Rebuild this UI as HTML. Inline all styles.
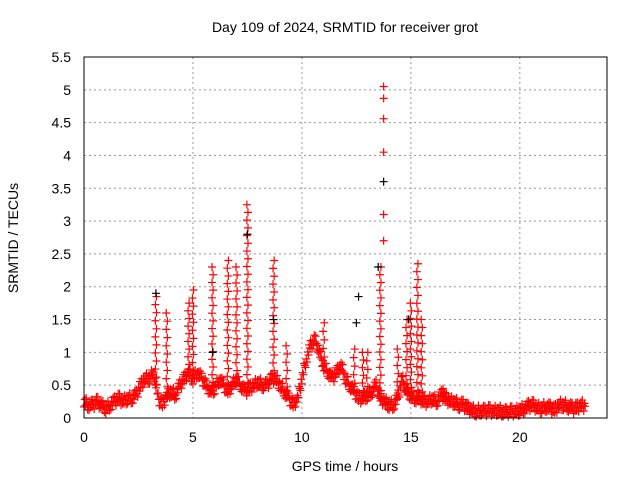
<!DOCTYPE html>
<html><head><meta charset="utf-8"><style>
body{margin:0;background:#fff}
svg{display:block;font-family:"Liberation Sans",sans-serif;font-size:14px}
</style></head><body>
<svg id="chart" width="640" height="480">
<text x="345" y="32" text-anchor="middle">Day 109 of 2024, SRMTID for receiver grot</text>
<text x="345" y="471" text-anchor="middle">GPS time / hours</text>
<text transform="translate(18,238) rotate(-90)" text-anchor="middle">SRMTID / TECUs</text>
<g id="grid"></g><g id="marks"></g>
<rect x="84" y="57" width="523" height="361" fill="none" stroke="#000"/>
</svg>
<script>
const baseTimes0 = 0, baseStep = 0.2;
const baseValues = [0.25,0.2,0.2,0.25,0.2, 0.15,0.2,0.25,0.3,0.25, 0.3,0.3,0.35,0.5,0.6, 0.6,0.7,0.3,0.2,0.35,
 0.4,0.35,0.5,0.6,0.7, 0.6,0.7,0.6,0.5,0.4, 0.45,0.6,0.5,0.4,0.5, 0.6,0.5,0.4,0.45,0.5,
 0.55,0.5,0.5,0.6,0.6, 0.5,0.4,0.3,0.2,0.3, 0.6,0.9,1.1,1.2,1.0, 0.8,0.7,0.6,0.7,0.8,
 0.6,0.5,0.4,0.3,0.3, 0.35,0.4,0.5,0.3,0.25, 0.2,0.2,0.3,0.6,0.4, 0.35,0.3,0.3,0.25,0.25,
 0.3,0.25,0.35,0.3,0.25, 0.25,0.2,0.2,0.15,0.12, 0.1,0.12,0.1,0.12,0.1, 0.12,0.1,0.08,0.1,0.1,
 0.12,0.15,0.18,0.2,0.15, 0.15,0.18,0.15,0.12,0.2, 0.2,0.18,0.15,0.15,0.2,0.18];
const spikeTimes = [3.3,3.8,4.8,5.0,5.9,6.6,7.0,7.5,8.7,9.3,11.0,12.4,12.8,13.0,13.6,14.4,14.8,15.0,15.3,15.5,16.5];
const spikePeaks = [1.85,1.6,1.75,1.95,2.3,2.4,2.3,3.25,2.4,1.1,1.45,1.05,1.0,1.0,2.3,1.05,1.5,1.75,2.35,1.5,0.45];
const isolatedTimes = [13.75,13.75,13.75,13.75,13.75,13.75];
const isolatedValues = [5.05,4.87,4.56,4.05,3.1,2.7];
const blackTimes = [3.3,5.9,7.5,8.7,12.5,12.6,13.5,13.75,14.9];
const blackValues = [1.9,1.0,2.8,1.5,1.45,1.85,2.3,3.6,1.5];
const xTicks = [0,5,10,15,20];
const yTicks = [0,0.5,1,1.5,2,2.5,3,3.5,4,4.5,5,5.5];
const yTickLabels = ["0","0.5","1","1.5","2","2.5","3","3.5","4","4.5","5","5.5"];

const NS="http://www.w3.org/2000/svg";
const X=t=>84+t*523/24, Y=v=>418-v*361/5.5;
const grid=document.getElementById('grid'), marks=document.getElementById('marks');
function mk(tag,attrs,parent){const e=document.createElementNS(NS,tag);for(const k in attrs)e.setAttribute(k,attrs[k]);parent.appendChild(e);return e;}
xTicks.forEach(t=>{
  const l=mk('line',{x1:X(t),x2:X(t),y1:57,y2:418,stroke:'#999','stroke-dasharray':'2,3'},grid);
  
  
  const tx=mk('text',{x:X(t),y:442,'text-anchor':'middle'},grid);tx.textContent=t;
  
  
});
yTicks.forEach((v,i)=>{
  const l=mk('line',{x1:84,x2:607,y1:Y(v),y2:Y(v),stroke:'#999','stroke-dasharray':'2,3'},grid);
  
  
  const tx=mk('text',{x:71,y:Y(v)+5,'text-anchor':'end'},grid);tx.textContent=yTickLabels[i];
  
  
});
function plus(t,v,c){
  const x=X(t),y=Y(v);
  const p=mk('path',{d:`M${x-4} ${y}H${x+4}M${x} ${y-4}V${y+4}`,stroke:c,'stroke-width':1.2,fill:'none'},marks);
  
  
}
function baseAt(t){const i=Math.min(Math.floor(t/baseStep),baseValues.length-2);const f=t/baseStep-i;return baseValues[i]*(1-f)+baseValues[i+1]*f;}
for(let i=0;i<baseValues.length-1;i++){
  for(let k=0;k<6;k++){const t=baseTimes0+(i+k/6)*baseStep;const w=((i*7+k*3)%5-2)*0.04;plus(t,Math.max(0.02,baseAt(t)+w),'red');}
}
plus(baseTimes0+(baseValues.length-1)*baseStep,baseValues[baseValues.length-1],'red');
spikeTimes.forEach((t,i)=>{
  const b=baseAt(t),p=spikePeaks[i];const n=Math.max(2,Math.round((p-b)/0.12));
  for(let k=0;k<=n;k++){plus(t+(k%2?0.025:-0.025),b+(p-b)*k/n,'red');}
});
isolatedTimes.forEach((t,i)=>plus(t,isolatedValues[i],'red'));
blackTimes.forEach((t,i)=>plus(t,blackValues[i],'#000'));
</script>
</body></html>
